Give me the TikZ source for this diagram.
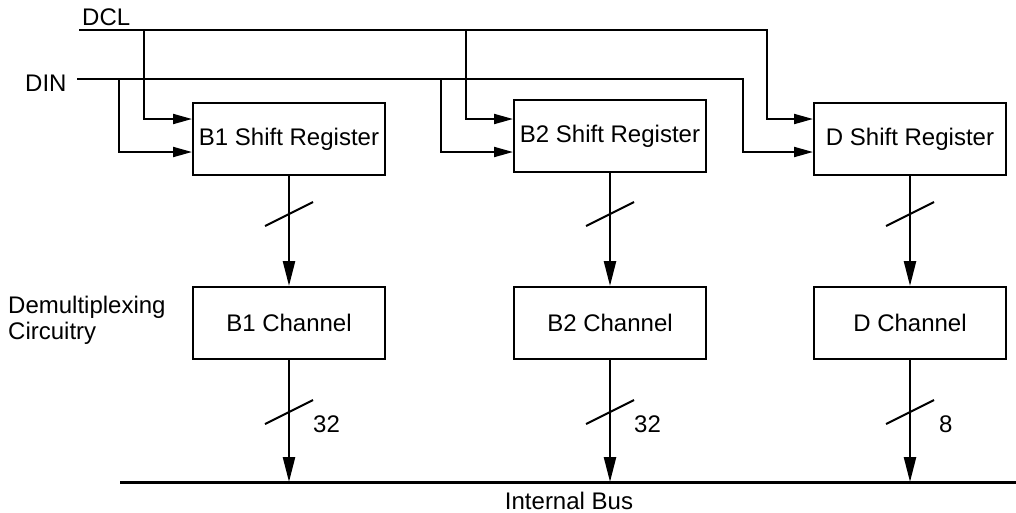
\documentclass[tikz,border=0pt]{standalone}
\usepackage{fontspec}
\setmainfont{Liberation Sans}
\usetikzlibrary{arrows.meta}

\begin{document}
\begin{tikzpicture}[x=1pt,y=-1pt,
  font=\fontsize{24}{26}\selectfont,
  box/.style={draw,line width=2pt,minimum width=192pt,minimum height=72pt,inner sep=0pt},
  wire/.style={line width=2pt},
  sig/.style={wire,-{Triangle[length=19pt,width=10pt]}},
  vbus/.style={line width=2.5pt,-{Triangle[length=25pt,width=12pt]}},
  lbl/.style={inner sep=0pt}]
\useasboundingbox (0,0) rectangle (1016,512);
\node[box] (b1sr) at (289,139) {B1 Shift Register};
\node[box] (b2sr) at (610,136) {B2 Shift Register};
\node[box] (dsr) at (910,139) {D Shift Register};
\node[box] (b1ch) at (289,323) {B1 Channel};
\node[box] (b2ch) at (610,323) {B2 Channel};
\node[box] (dch) at (910,323) {D Channel};
\node[lbl,anchor=west] (dcllbl) at (82,17) {DCL};
\node[lbl,anchor=west] (dinlbl) at (25,83) {DIN};
\node[lbl,anchor=west,align=left] (demux) at (8,320) {Demultiplexing\\Circuitry};
\node[lbl,anchor=base] (buslbl) at (569,509) {Internal Bus};
\node[lbl,anchor=west] (w1) at (313,424) {32};
\node[lbl,anchor=west] (w2) at (634,424) {32};
\node[lbl,anchor=west] (w3) at (939,424) {8};
\coordinate (dcl) at (79,30);
\coordinate (din) at (77,79);
\coordinate (clk) at (0,119);
\coordinate (dat) at (0,152);
\coordinate (busl) at (120,482);
\coordinate (busr) at (1016,482);
\draw[sig] (dcl) -| (767,119) -- (dsr.west |- clk);
\draw[sig] (din) -| (743,152) -- (dsr.west |- dat);
\draw[sig] (144,30) |- (b1sr.west |- clk);
\draw[sig] (119,79) |- (b1sr.west |- dat);
\draw[sig] (466,30) |- (b2sr.west |- clk);
\draw[sig] (441,79) |- (b2sr.west |- dat);
\draw[vbus] (b1sr) -- (b1ch);
\draw[vbus] (b2sr) -- (b2ch);
\draw[vbus] (dsr) -- (dch);
\draw[line width=3pt] (busl) -- (busr);
\draw[vbus] (b1ch) -- (b1ch |- busl);
\draw[vbus] (b2ch) -- (b2ch |- busl);
\draw[vbus] (dch) -- (dch |- busl);
\draw[wire] (265,226) -- (313,202);
\draw[wire] (586,226) -- (634,202);
\draw[wire] (886,226) -- (934,202);
\draw[wire] (265,424) -- (313,400);
\draw[wire] (586,424) -- (634,400);
\draw[wire] (886,424) -- (934,400);
\end{tikzpicture}
\end{document}
